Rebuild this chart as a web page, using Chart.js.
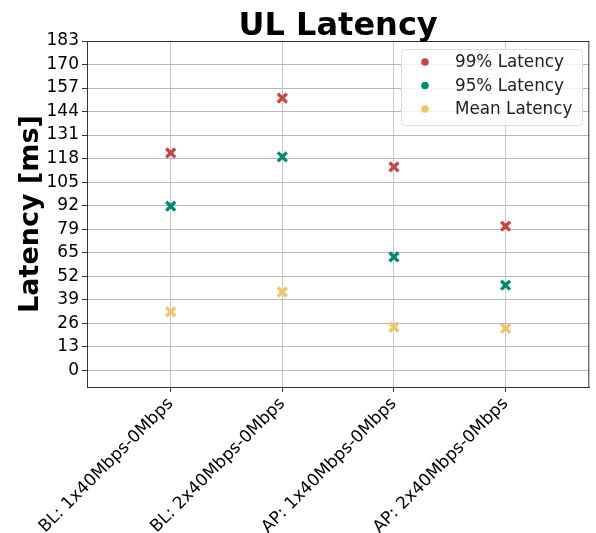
<!DOCTYPE html>
<html lang="en">
<head>
  <meta charset="UTF-8" />
  <title>UL Latency</title>
  <style>
    html, body { margin: 0; padding: 0; background: #fff; overflow: hidden; }
    #wrap { width: 596px; height: 533px; overflow: hidden; }
  </style>
</head>
<body>
<div id="wrap"><canvas id="chart" width="599" height="533"></canvas></div>

<script src="https://cdn.jsdelivr.net/npm/chart.js"></script>
<script>
// data
const categories = ['BL: 1x40Mbps-0Mbps', 'BL: 2x40Mbps-0Mbps', 'AP: 1x40Mbps-0Mbps', 'AP: 2x40Mbps-0Mbps'];
const latency99 = [120.8, 151.3, 113.0, 80.1];
const latency95 = [91.2, 118.6, 63.0, 47.3];
const latencyMean = [32.5, 43.5, 24.0, 23.3];
const yTickLabels = ['0', '13', '26', '39', '52', '65', '79', '92', '105', '118', '131', '144', '157', '170', '183'];
const yMax = 183;
const yMin = -9.3;

const FONT = "'DejaVu Sans', sans-serif";

const series = [
  { label: '99% Latency', values: latency99, color: '#c44848' },
  { label: '95% Latency', values: latency95, color: '#008a72' },
  { label: 'Mean Latency', values: latencyMean, color: '#eec46e' }
];

// title, frame and in-plot legend like matplotlib
const extras = {
  id: 'extras',
  afterDraw(chart) {
    const { ctx, chartArea: a } = chart;
    ctx.save();
    ctx.strokeStyle = '#333';
    ctx.lineWidth = 1;
    ctx.strokeRect(a.left + 0.5, a.top + 0.5, a.right - a.left - 1, a.bottom - a.top);

    ctx.fillStyle = '#000';
    ctx.font = 'bold 32px ' + FONT;
    ctx.textAlign = 'center';
    ctx.textBaseline = 'alphabetic';
    ctx.fillText('UL Latency', (a.left + a.right) / 2, 35);

    // legend box
    const bx = 401, by = 49, bw = 181, bh = 76;
    ctx.beginPath();
    ctx.roundRect(bx + 0.5, by + 0.5, bw, bh, 4);
    ctx.fillStyle = 'rgba(255,255,255,0.8)';
    ctx.fill();
    ctx.strokeStyle = '#dcdcdc';
    ctx.stroke();
    ctx.font = '16.8px ' + FONT;
    ctx.textAlign = 'left';
    ctx.textBaseline = 'middle';
    series.forEach((s, i) => {
      const y = 62 + i * 23.5;
      ctx.beginPath();
      ctx.arc(425, y, 3.8, 0, Math.PI * 2);
      ctx.fillStyle = s.color;
      ctx.fill();
      ctx.fillStyle = '#222';
      ctx.fillText(s.label, 455, y + 1);
    });
    ctx.restore();
  }
};

const ctx = document.getElementById('chart').getContext('2d');
new Chart(ctx, {
  type: 'scatter',
  data: {
    datasets: series.map(s => ({
      label: s.label,
      data: s.values.map((v, i) => ({ x: i, y: v })),
      pointStyle: 'crossRot',
      radius: 6.3,
      hoverRadius: 6.3,
      borderWidth: 3.4,
      borderColor: s.color,
      backgroundColor: s.color
    }))
  },
  options: {
    responsive: false,
    animation: false,
    events: [],
    layout: { padding: { top: 41, right: 7, left: 0, bottom: 0 } },
    plugins: {
      legend: { display: false },
      title: { display: false },
      tooltip: { enabled: false }
    },
    scales: {
      x: {
        type: 'linear',
        min: -0.75,
        max: 3.75,
        afterBuildTicks: scale => { scale.ticks = categories.map((c, i) => ({ value: i })); },
        afterFit: scale => { scale.height = 146; },
        ticks: {
          callback: v => categories[v],
          minRotation: 45,
          maxRotation: 45,
          color: '#000',
          padding: 2,
          font: { family: FONT, size: 17 }
        },
        grid: { color: '#c8c8c8', lineWidth: 1, tickLength: 5, tickColor: '#333', drawTicks: true },
        border: { color: '#333' }
      },
      y: {
        min: yMin,
        max: yMax,
        afterBuildTicks: scale => {
          scale.ticks = yTickLabels.map((t, i) => ({ value: i * yMax / (yTickLabels.length - 1) }));
        },
        afterFit: scale => { scale.width = 87; },
        ticks: {
          callback: (v, i) => yTickLabels[i],
          color: '#000',
          padding: 3,
          font: { family: FONT, size: 17 }
        },
        title: {
          display: true,
          text: 'Latency [ms]',
          color: '#000',
          padding: { top: 15, bottom: 0 },
          font: { family: FONT, size: 27, weight: 'bold' }
        },
        grid: { color: '#b8b8b8', lineWidth: 1, tickLength: 5, tickColor: '#333', drawTicks: true },
        border: { color: '#333' }
      }
    }
  },
  plugins: [extras]
});
</script>
</body>
</html>
